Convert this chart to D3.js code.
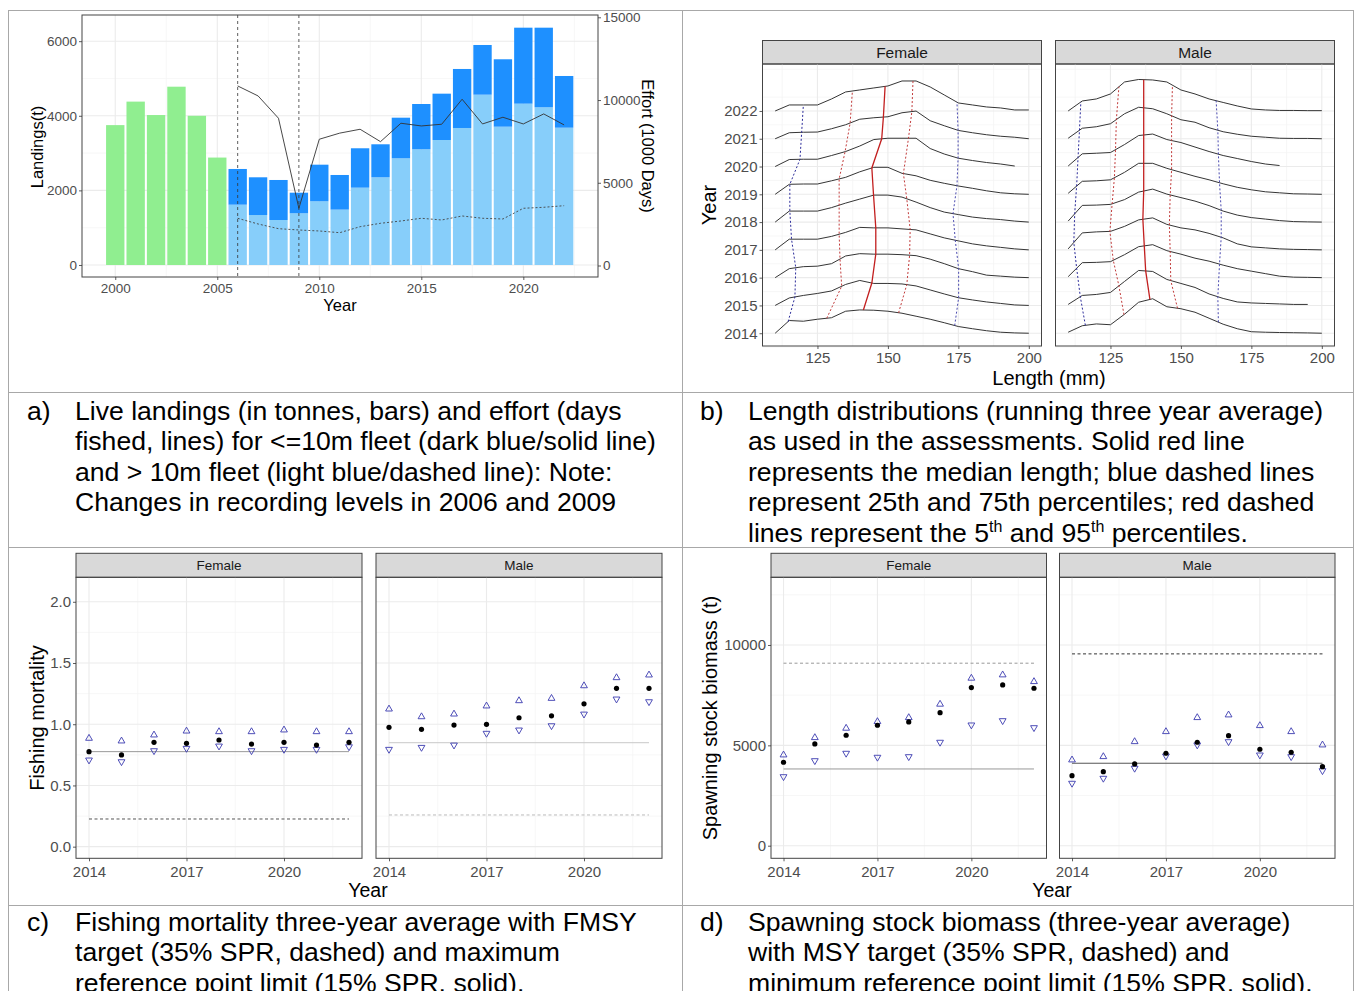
<!DOCTYPE html>
<html><head><meta charset="utf-8">
<script src="https://cdn.jsdelivr.net/npm/d3@7"></script>
<style>
body{margin:0;background:#fff;}
svg{display:block;}
</style></head><body>
<svg id="c" width="1355" height="991"></svg>
<script>
// ---------------- DATA ----------------
// Panel a: landings (t) and effort (1000 days)
const earlyYears = [2000, 2001, 2002, 2003, 2004, 2005];
const landingsEarly = [3750, 4380, 4020, 4780, 4000, 2880];
const fleetYears = [2006,2007,2008,2009,2010,2011,2012,2013,2014,2015,2016,2017,2018,2019,2020,2021,2022];
const landingsOver10 = [1617,1340,1206,1386,1708,1485,2073,2351,2860,3102,3351,3673,4566,3708,4325,4228,3681];
const landingsUnder10 = [957,1011,1073,552,981,928,1056,885,1089,1214,1242,1582,1332,1807,2037,2134,1386];
const effortUnder10 = [10852,10248,8900,3458,7630,8000,8234,7485,8597,8434,8537,10048,8555,8960,8555,9160,8495];
const effortOver10 = [2854,2509,2225,2146,2086,1983,2346,2551,2690,2854,2751,2993,2854,2811,3458,3518,3615];
const recordingChangeYears = [2006, 2009];
const aYearTicks = [2000, 2005, 2010, 2015, 2020];
const aLandTicks = [0, 2000, 4000, 6000];
const aEffortTicks = [0, 5000, 10000, 15000];

// Panel b: length distributions (relative frequency per 5 mm bin)
const ldYears = [2014,2015,2016,2017,2018,2019,2020,2021,2022];
const lengthBins = [110,115,120,125,130,135,140,145,150,155,160,165,170,175,180,185,190,195,200];
const freqFemale = [
  [0,12.7,12,14,15.5,22,23.3,23,22,20,17,14,10.5,6.7,4.5,2.5,1,0.3,0],
  [0,7.5,10,12,14.5,21,25,22,22,21.5,19.5,15.5,11.5,7.7,5.5,3.5,2,0.5,0],
  [0,9,11,11.5,14,21.7,24,23.5,23.5,23,22,18.5,14,9,6,2.5,1.5,0.5,0],
  [0,10.7,10.7,10.7,13.5,17.5,22.5,22,22,21,20,16,12,9,6,4,2.5,1,0],
  [0,11,11,11,14.5,19,23,27,27,25,20,14.5,10,7.5,5,3.5,2.5,1,0],
  [0,10,10.3,10.3,13.5,17,22.5,27,27,21,18.5,14,11,8.3,6,3.5,1.5,0.5,0],
  [0,7,7.3,7.3,11,15,20.5,27,28.3,28.3,28.3,18,12.5,8.3,6,4,2.5,0.5,null],
  [0,6,6.5,6.7,10,14,19.5,21,22,26,27.7,18,13,8.3,6,4,2.5,1.5,0],
  [0,6,6,6,12,19,21,23,25,30,30,24,16,8,6,4,3,1,1]
];
const freqMale = [
  [1,7.5,9.3,8.5,19,31,34.5,26.5,24.5,21,15,9,4.5,1.5,1,0.7,0.5,0.3,0],
  [1,10,11,13,24,35,34,26,22,18,11.5,7,3.5,2.5,2,1.5,1,1,null],
  [1,15,15.3,16,23,31,33,27,23.5,19.5,16.5,12.5,9,6.5,4,1.5,0.5,0.3,0],
  [1,17,18,18.5,23.5,30,32,25.5,22,20,16.5,12,6,3,2,1,0.5,0.3,0],
  [1,16.7,17,17.7,22.5,30,33,28,24.5,21,16.5,11,7,4.5,3,1.5,0.5,0.2,0],
  [1,13,13.5,14.5,22,31,31,26,22,18,14.5,10.5,7,4.5,2.5,1.5,0.5,0.3,0],
  [0.5,12.7,13.3,14,22,31,32.5,27,24,19.5,15,11,8,5,2.5,1,null,null,null],
  [0.5,10.5,12,15,25,31.5,30,25,19,16.5,11,7,4.5,2.5,1.5,0.5,0.3,0.3,0],
  [0,10,12,17,29,31.5,31,29,21,17,12,8.5,5,2,1,0.5,0.5,0.3,0.3]
];
// percentile lengths (mm) per year 2014..2022
const outerLowF  = [114.6,117,117.3,115.8,115.2,115.2,118.8,119.4,120];
const innerLowF  = [128.3,133.6,133,132.7,132.7,132.7,134.8,136.6,137.4];
const medianF    = [141.3,144.3,145.7,145.7,144.9,144.3,147.8,148.4,149];
const innerHighF = [153.8,156.7,157.7,157.9,156.7,155.5,157.3,158.5,158.9];
const outerHighF = [173.7,175.1,175.1,173.9,173.1,174.5,174.9,174.9,174.5];
const outerLowM  = [116.1,114.3,113,112,112.3,113,113.5,114,114.5];
const innerLowM  = [129.8,128,126,124.8,125.6,126.4,126.8,127.1,128];
const medianM    = [139,137.5,137,136.5,136.8,136.8,136.8,136.8,136.8];
const innerHighM = [148.8,146.4,146.2,145.9,146.2,146.7,146.7,146.7,147];
const outerHighM = [163.3,163.1,163.7,164.3,164.3,163.7,163.3,163.1,162.5];
const lengthTicks = [125, 150, 175, 200];

// Panel c: fishing mortality
const assessYears = [2014,2015,2016,2017,2018,2019,2020,2021,2022];
const fFemale   = [0.776,0.749,0.852,0.844,0.871,0.838,0.852,0.830,0.852];
const fFemaleHi = [0.885,0.863,0.912,0.944,0.939,0.939,0.953,0.939,0.939];
const fFemaleLo = [0.708,0.694,0.784,0.803,0.822,0.784,0.795,0.795,0.816];
const fMale     = [0.975,0.958,0.993,0.999,1.053,1.069,1.167,1.293,1.293];
const fMaleHi   = [1.124,1.061,1.083,1.149,1.192,1.211,1.314,1.380,1.402];
const fMaleLo   = [0.795,0.811,0.830,0.926,0.953,0.988,1.083,1.206,1.184];
const fTarget = {Female: 0.226, Male: 0.259};
const fLimit  = {Female: 0.776, Male: 0.849};
const fTicks = [0.0, 0.5, 1.0, 1.5, 2.0];
const assessYearTicks = [2014, 2017, 2020];

// Panel d: spawning stock biomass
const ssbFemale   = [4157,5070,5503,6002,6166,6630,7876,8011,7846];
const ssbFemaleHi = [4521,5384,5852,6182,6381,7049,8345,8510,8175];
const ssbFemaleLo = [3440,4237,4606,4407,4437,5155,6017,6231,5882];
const ssbMale     = [3490,3689,4073,4606,5155,5484,4806,4656,3938];
const ssbMaleHi   = [4272,4437,5184,5683,6381,6515,5982,5683,5020];
const ssbMaleLo   = [3111,3360,3859,4471,5020,5184,4521,4437,3739];
const bTarget = {Female: 9093, Male: 9557};
const bLimit  = {Female: 3823, Male: 4108};
const ssbTicks = [0, 5000, 10000];

// ---------------- DRAWING ----------------
const FONT = '"Liberation Sans", Arial, Helvetica, sans-serif';
const svg = d3.select('#c').attr('font-family', FONT);
svg.append('rect').attr('width', 1355).attr('height', 991).attr('fill', '#fff');

const GRID_MAJ = '#EBEBEB', GRID_MIN = '#F4F4F4';

function grid(g, x, y, w, h, xMaj, xMin, yMaj, yMin) {
  const gg = g.append('g');
  gg.selectAll('.xm').data(xMin).join('line').attr('x1', d => x(d)).attr('x2', d => x(d))
    .attr('y1', 0).attr('y2', h).attr('stroke', GRID_MIN).attr('stroke-width', 0.7);
  gg.selectAll('.ym').data(yMin).join('line').attr('y1', d => y(d)).attr('y2', d => y(d))
    .attr('x1', 0).attr('x2', w).attr('stroke', GRID_MIN).attr('stroke-width', 0.7);
  gg.selectAll('.xM').data(xMaj).join('line').attr('x1', d => x(d)).attr('x2', d => x(d))
    .attr('y1', 0).attr('y2', h).attr('stroke', GRID_MAJ).attr('stroke-width', 1.1);
  gg.selectAll('.yM').data(yMaj).join('line').attr('y1', d => y(d)).attr('y2', d => y(d))
    .attr('x1', 0).attr('x2', w).attr('stroke', GRID_MAJ).attr('stroke-width', 1.1);
}
function styleAxis(sel, fs) {
  sel.attr('font-family', FONT).attr('font-size', fs);
  sel.select('.domain').remove();
  sel.selectAll('.tick line').attr('stroke', '#333').attr('stroke-width', 0.8);
  sel.selectAll('.tick text').attr('fill', '#4D4D4D');
}
function border(g, w, h) {
  g.append('rect').attr('width', w).attr('height', h).attr('fill', 'none')
    .attr('stroke', '#444').attr('stroke-width', 1);
}
function strip(parent, x0, y0, w, h, label, fs) {
  const g = parent.append('g').attr('transform', `translate(${x0},${y0})`);
  g.append('rect').attr('width', w).attr('height', h).attr('fill', '#D9D9D9')
    .attr('stroke', '#444').attr('stroke-width', 1);
  g.append('text').attr('x', w / 2).attr('y', h / 2).attr('dy', '0.36em')
    .attr('text-anchor', 'middle').attr('font-size', fs).attr('fill', '#1A1A1A').text(label);
}
function title(x, y, txt, fs, rot) {
  return svg.append('text').attr('transform', `translate(${x},${y}) rotate(${rot || 0})`)
    .attr('text-anchor', 'middle').attr('dy', '0.36em').attr('font-size', fs).attr('fill', '#000').text(txt);
}
const intFmt = d3.format('d');

// ===== Panel a =====
(function () {
  const P = {x: 82, y: 15, w: 516, h: 262};
  const g = svg.append('g').attr('transform', `translate(${P.x},${P.y})`);
  const x = d3.scaleLinear().domain([1998.37, 2023.66]).range([0, P.w]);
  const y = d3.scaleLinear().domain([-322, 6702]).range([P.h, 0]);
  const y2 = d3.scaleLinear().domain([-695, 15139]).range([P.h, 0]);
  grid(g, x, y, P.w, P.h, aYearTicks, [2002.5, 2007.5, 2012.5, 2017.5, 2022.5], aLandTicks, [1000, 3000, 5000]);
  const bw = 0.9;
  g.selectAll('.early').data(earlyYears.map((yr, i) => ({yr, v: landingsEarly[i]}))).join('rect')
    .attr('x', d => x(d.yr - bw / 2)).attr('width', x(bw) - x(0))
    .attr('y', d => y(d.v)).attr('height', d => y(0) - y(d.v)).attr('fill', '#90EE90');
  const rows = fleetYears.map((yr, i) => ({yr, over10: landingsOver10[i], under10: landingsUnder10[i]}));
  const stack = d3.stack().keys(['over10', 'under10'])(rows);
  const cols = {over10: '#87CEFA', under10: '#1E90FF'};
  stack.forEach(layer => {
    g.append('g').selectAll('rect').data(layer).join('rect')
      .attr('x', d => x(d.data.yr - bw / 2)).attr('width', x(bw) - x(0))
      .attr('y', d => y(d[1])).attr('height', d => y(d[0]) - y(d[1]))
      .attr('fill', cols[layer.key]);
  });
  g.selectAll('.vl').data(recordingChangeYears).join('line')
    .attr('x1', d => x(d)).attr('x2', d => x(d)).attr('y1', 0).attr('y2', P.h)
    .attr('stroke', '#333').attr('stroke-width', 0.8).attr('stroke-dasharray', '3,3');
  const line = d3.line().x(d => x(d[0])).y(d => y2(d[1]));
  g.append('path').attr('d', line(fleetYears.map((yr, i) => [yr, effortUnder10[i]])))
    .attr('fill', 'none').attr('stroke', '#333').attr('stroke-width', 0.9);
  g.append('path').attr('d', line(fleetYears.map((yr, i) => [yr, effortOver10[i]])))
    .attr('fill', 'none').attr('stroke', '#444').attr('stroke-width', 0.9).attr('stroke-dasharray', '2,2');
  border(g, P.w, P.h);
  styleAxis(g.append('g').call(d3.axisLeft(y).tickValues(aLandTicks).tickFormat(intFmt).tickSize(3).tickPadding(2)), 13.5);
  styleAxis(g.append('g').attr('transform', `translate(0,${P.h})`)
    .call(d3.axisBottom(x).tickValues(aYearTicks).tickFormat(intFmt).tickSize(3).tickPadding(3)), 13.5);
  styleAxis(g.append('g').attr('transform', `translate(${P.w},0)`)
    .call(d3.axisRight(y2).tickValues(aEffortTicks).tickFormat(intFmt).tickSize(3).tickPadding(2)), 13.5);
  title(37, 147, 'Landings(t)', 16.5, -90);
  title(340, 305, 'Year', 16.5, 0);
  title(648, 146, 'Effort (1000 Days)', 16.5, 90);
})();

// ===== Panel b =====
(function () {
  const top = 64, h = 282, w = 279, stripH = 23.5;
  const y = d3.scaleLinear().domain([2013.54, 2023.69]).range([h, 0]);
  const x = d3.scaleLinear().domain([105.5, 204.5]).range([0, w]);
  const unit = 1 / 27.8; // relative frequency unit -> years of vertical offset
  const facets = [
    {label: 'Female', x0: 762.5, freq: freqFemale, pct: [outerLowF, innerLowF, medianF, innerHighF, outerHighF]},
    {label: 'Male', x0: 1055.5, freq: freqMale, pct: [outerLowM, innerLowM, medianM, innerHighM, outerHighM]}
  ];
  const pctStyle = [
    {c: '#2B2B9A', dash: '2,2', wd: 1},
    {c: '#C23B3B', dash: '2,2', wd: 1},
    {c: '#C21F1F', dash: null, wd: 1.3},
    {c: '#C23B3B', dash: '2,2', wd: 1},
    {c: '#4A4AB0', dash: '2,2', wd: 1}
  ];
  facets.forEach((f, fi) => {
    strip(svg, f.x0, top - stripH, w, stripH, f.label, 15.5);
    const g = svg.append('g').attr('transform', `translate(${f.x0},${top})`);
    grid(g, x, y, w, h, lengthTicks, [112.5, 137.5, 162.5, 187.5], ldYears,
      [2013.5, 2014.5, 2015.5, 2016.5, 2017.5, 2018.5, 2019.5, 2020.5, 2021.5, 2022.5, 2023.5]);
    const heightAt = (row, mm) => {
      for (let i = 0; i < lengthBins.length - 1; i++) {
        if (mm >= lengthBins[i] && mm <= lengthBins[i + 1]) {
          const a = row[i], b = row[i + 1] == null ? a : row[i + 1];
          const t = (mm - lengthBins[i]) / (lengthBins[i + 1] - lengthBins[i]);
          return a + (b - a) * t;
        }
      }
      return 0;
    };
    const ridge = d3.line().defined(d => d[1] != null).x(d => x(d[0])).y(d => y(d[2] + d[1] * unit));
    ldYears.forEach((yr, i) => {
      const pts = lengthBins.map((mm, j) => [mm, f.freq[i][j], yr]);
      g.append('path').attr('d', ridge(pts)).attr('fill', 'none')
        .attr('stroke', '#2A2A2A').attr('stroke-width', 0.95);
    });
    f.pct.forEach((arr, k) => {
      const pts = ldYears.map((yr, i) => [arr[i], yr + heightAt(f.freq[i], arr[i]) * unit]);
      const p = g.append('path').attr('d', d3.line().x(d => x(d[0])).y(d => y(d[1]))(pts))
        .attr('fill', 'none').attr('stroke', pctStyle[k].c).attr('stroke-width', pctStyle[k].wd);
      if (pctStyle[k].dash) p.attr('stroke-dasharray', pctStyle[k].dash);
    });
    border(g, w, h);
    styleAxis(g.append('g').attr('transform', `translate(0,${h})`)
      .call(d3.axisBottom(x).tickValues(lengthTicks).tickSize(3).tickPadding(3)), 15);
    if (fi === 0) {
      styleAxis(g.append('g').call(d3.axisLeft(y).tickValues(ldYears).tickFormat(intFmt).tickSize(3).tickPadding(2)), 15);
    }
  });
  title(1049, 378, 'Length (mm)', 20, 0);
  title(709, 205, 'Year', 20, -90);
})();

// ===== Facet scatter panels (c, d) =====
function facetScatter(cfg) {
  const top = 577.3, h = 281, stripH = 24;
  const y = d3.scaleLinear().domain(cfg.yDomain).range([h, 0]);
  cfg.facets.forEach((f, fi) => {
    strip(svg, f.x0, top - stripH, cfg.w, stripH, f.label, 13.5);
    const g = svg.append('g').attr('transform', `translate(${f.x0},${top})`);
    const x = d3.scaleLinear().domain([2013.6, 2022.4]).range([0, cfg.w]);
    grid(g, x, y, cfg.w, h, assessYearTicks, [2015.5, 2018.5, 2021.5], cfg.yTicks, cfg.yMinor);
    const x1 = x(assessYears[0]), x2 = x(assessYears[assessYears.length - 1]);
    g.append('line').attr('x1', x1).attr('x2', x2).attr('y1', y(f.target)).attr('y2', y(f.target))
      .attr('stroke', f.targetCol).attr('stroke-width', 1).attr('stroke-dasharray', '3,2.5');
    g.append('line').attr('x1', x1).attr('x2', x2).attr('y1', y(f.limit)).attr('y2', y(f.limit))
      .attr('stroke', f.limitCol).attr('stroke-width', 1);
    const tri = d3.symbol().type(d3.symbolTriangle).size(20);
    g.selectAll('.hi').data(assessYears.map((yr, i) => [yr, f.hi[i]])).join('path')
      .attr('d', tri).attr('transform', d => `translate(${x(d[0])},${y(d[1])})`)
      .attr('fill', 'none').attr('stroke', '#3B3BB0').attr('stroke-width', 0.9);
    g.selectAll('.lo').data(assessYears.map((yr, i) => [yr, f.lo[i]])).join('path')
      .attr('d', tri).attr('transform', d => `translate(${x(d[0])},${y(d[1])}) rotate(180)`)
      .attr('fill', 'none').attr('stroke', '#3B3BB0').attr('stroke-width', 0.9);
    g.selectAll('.pt').data(assessYears.map((yr, i) => [yr, f.v[i]])).join('circle')
      .attr('cx', d => x(d[0])).attr('cy', d => y(d[1])).attr('r', 2.6).attr('fill', '#000');
    border(g, cfg.w, h);
    styleAxis(g.append('g').attr('transform', `translate(0,${h})`)
      .call(d3.axisBottom(x).tickValues(assessYearTicks).tickFormat(intFmt).tickSize(3).tickPadding(5)), 15);
    if (fi === 0) {
      styleAxis(g.append('g').call(d3.axisLeft(y).tickValues(cfg.yTicks).tickFormat(cfg.fmt).tickSize(3).tickPadding(2)), 15);
    }
  });
}
facetScatter({
  w: 286, yDomain: [-0.095, 2.2], yTicks: fTicks, yMinor: [0.25, 0.75, 1.25, 1.75], fmt: d3.format('.1f'),
  facets: [
    {label: 'Female', x0: 76, v: fFemale, hi: fFemaleHi, lo: fFemaleLo, target: fTarget.Female, limit: fLimit.Female, targetCol: '#555', limitCol: '#999'},
    {label: 'Male', x0: 376, v: fMale, hi: fMaleHi, lo: fMaleLo, target: fTarget.Male, limit: fLimit.Male, targetCol: '#BBB', limitCol: '#C8C8C8'}
  ]
});
facetScatter({
  w: 275.5, yDomain: [-628, 13373], yTicks: ssbTicks, yMinor: [2500, 7500, 12500], fmt: intFmt,
  facets: [
    {label: 'Female', x0: 771, v: ssbFemale, hi: ssbFemaleHi, lo: ssbFemaleLo, target: bTarget.Female, limit: bLimit.Female, targetCol: '#999', limitCol: '#999'},
    {label: 'Male', x0: 1059.5, v: ssbMale, hi: ssbMaleHi, lo: ssbMaleLo, target: bTarget.Male, limit: bLimit.Male, targetCol: '#333', limitCol: '#555'}
  ]
});
title(37, 718, 'Fishing mortality', 20, -90);
title(368, 890, 'Year', 19.5, 0);
title(710, 718, 'Spawning stock biomass (t)', 20, -90);
title(1052, 890, 'Year', 19.5, 0);

// ===== Table borders =====
const bc = '#A8A8A8';
[[8, 10.5, 1354, 10.5], [8, 392.5, 1354, 392.5], [8, 547.5, 1354, 547.5], [8, 905.5, 1354, 905.5],
 [8.5, 10, 8.5, 991], [682.5, 10, 682.5, 991], [1353.5, 10, 1353.5, 991]].forEach(l => {
  svg.append('line').attr('x1', l[0]).attr('y1', l[1]).attr('x2', l[2]).attr('y2', l[3])
    .attr('stroke', bc).attr('stroke-width', 1);
});

// ===== Captions =====
const CAP = 26.6;
function caption(lx, tx, y0, label, lines) {
  svg.append('text').attr('x', lx).attr('y', y0).attr('font-size', CAP).attr('fill', '#000').text(label);
  lines.forEach((ln, i) => {
    const t = svg.append('text').attr('x', tx).attr('y', y0 + i * 30.4).attr('font-size', CAP).attr('fill', '#000');
    if (typeof ln === 'string') t.text(ln);
    else ln.forEach(part => {
      const s = t.append('tspan').text(part.t);
      if (part.sup) s.attr('font-size', 16).attr('dy', -10);
      if (part.down) s.attr('dy', 10);
    });
  });
}
caption(27, 75, 420, 'a)', [
  'Live landings (in tonnes, bars) and effort (days',
  'fished, lines) for <=10m fleet (dark blue/solid line)',
  'and > 10m fleet (light blue/dashed line): Note:',
  'Changes in recording levels in 2006 and 2009'
]);
caption(700, 748, 420, 'b)', [
  'Length distributions (running three year average)',
  'as used in the assessments. Solid red line',
  'represents the median length; blue dashed lines',
  'represent 25th and 75th percentiles; red dashed',
  [{t: 'lines represent the 5'}, {t: 'th', sup: true}, {t: ' and 95', down: true}, {t: 'th', sup: true}, {t: ' percentiles.', down: true}]
]);
caption(27, 75, 931, 'c)', [
  'Fishing mortality three-year average with FMSY',
  'target (35% SPR, dashed) and maximum',
  'reference point limit (15% SPR, solid).'
]);
caption(700, 748, 931, 'd)', [
  'Spawning stock biomass (three-year average)',
  'with MSY target (35% SPR, dashed) and',
  'minimum reference point limit (15% SPR, solid).'
]);
</script>
</body></html>
